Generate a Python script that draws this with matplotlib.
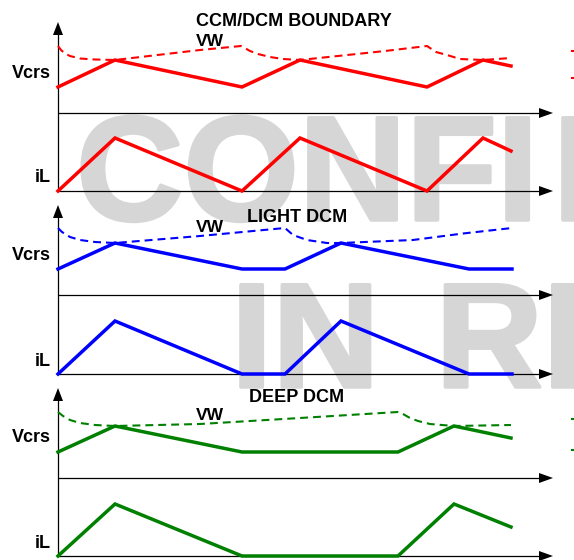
import matplotlib
matplotlib.use("Agg")
import matplotlib.pyplot as plt
import matplotlib.patheffects as pe
from matplotlib.patches import Polygon

# ---------------- data (time and signal levels) ----------------
# Panel 1: CCM/DCM boundary
t_ccm = [0, 57, 184, 242, 369, 425, 453]
il_ccm = [0, 53, 0, 53, 0, 53, 40]
vcrs_ccm = [26, 53, 26, 53, 26, 53, 47]
t_vw_ccm = [0, 3, 7, 12, 22, 37, 57, 142, 183, 186, 192, 200, 212, 225, 242,
            327, 369, 372, 378, 389, 402, 425, 453]
vw_ccm = [67, 63, 59.5, 57, 54.5, 53.5, 53, 63, 67, 65.5, 62, 59, 56, 54, 53,
          62, 67, 65, 61, 58, 54, 53, 55]

# Panel 2: light DCM
t_light = [0, 57, 184, 227, 283, 411, 454]
il_light = [0, 53, 0, 0, 53, 0, 0]
vcrs_light = [26, 52, 26, 26, 52, 26, 26]
t_vw_light = [0, 4, 12, 22, 37, 57, 142, 227, 235, 249, 269, 283, 355, 405, 454]
vw_light = [67, 63, 58, 55, 53, 52, 59, 67, 60, 55, 52, 52, 55, 61.5, 67]

# Panel 3: deep DCM
t_deep = [0, 57, 184, 340, 396, 453]
il_deep = [0, 52, 0, 0, 52, 29]
vcrs_deep = [26, 52, 26, 26, 52, 40]
t_vw_deep = [0, 5, 12, 22, 37, 57, 142, 242, 340, 345, 352, 360, 372, 396, 453]
vw_deep = [66, 62, 58, 55, 53, 52, 54, 60, 66, 64, 60, 57, 54, 52, 53]

titles = ["CCM/DCM BOUNDARY", "LIGHT DCM", "DEEP DCM"]
colors = ["#ff0000", "#0000ff", "#008000"]
watermark_words = ["CONFI", "DENTIAL", "IN", "RICHTEK"]

# ---------------- layout (pixel geometry of the drawing) ----------------
W, H = 574, 560
X0 = 58            # vertical axis position
X_END = 553        # arrow tip of time axes
panels = [
    dict(top=113, bot=191, tip=22, tx=196, ty=22, vwy=42),
    dict(top=295, bot=374, tip=205, tx=247, ty=218, vwy=228),
    dict(top=478, bot=556, tip=388, tx=249, ty=398, vwy=416),
]
wm_pos = [(76, 220), (553, 220), (231, 387), (435.5, 387)]
series = [
    (t_ccm, il_ccm, vcrs_ccm, t_vw_ccm, vw_ccm),
    (t_light, il_light, vcrs_light, t_vw_light, vw_light),
    (t_deep, il_deep, vcrs_deep, t_vw_deep, vw_deep),
]

fig = plt.figure(figsize=(W / 100, H / 100), dpi=100)
ax = fig.add_axes([0, 0, 1, 1])
ax.set_xlim(0, W)
ax.set_ylim(H, 0)
ax.axis("off")

FONT = "Liberation Sans"
WM = "#d6d6d6"

# watermark
for word, (x, y) in zip(watermark_words, wm_pos):
    ax.text(x, y, word, fontsize=107, fontweight="bold", family=FONT, color=WM,
            ha="left", va="baseline", zorder=0,
            path_effects=[pe.Stroke(linewidth=2.5, foreground=WM), pe.Normal()])


def harrow(y):
    ax.plot([X0, X_END - 12], [y, y], color="black", lw=0.9, zorder=2, solid_capstyle="butt")
    ax.add_patch(Polygon([[X_END - 14, y - 5], [X_END, y], [X_END - 14, y + 5]],
                         closed=True, color="black", lw=0, zorder=2))


def varrow(y_tip, y_bot):
    ax.plot([X0, X0], [y_tip + 10, y_bot], color="black", lw=0.9, zorder=2)
    ax.add_patch(Polygon([[X0 - 5, y_tip + 13], [X0, y_tip], [X0 + 5, y_tip + 13]],
                         closed=True, color="black", lw=0, zorder=2))


for p, (t, il, vc, tvw, vw), col, title in zip(panels, series, colors, titles):
    varrow(p["tip"], p["bot"])
    harrow(p["top"])
    harrow(p["bot"])
    # waveforms
    ax.plot([X0 + v for v in t], [p["bot"] - v for v in il], color=col, lw=2.5,
            zorder=3, solid_joinstyle="miter")
    ax.plot([X0 + v for v in t], [p["top"] - v for v in vc], color=col, lw=2.5,
            zorder=3, solid_joinstyle="miter")
    ax.plot([X0 + v for v in tvw], [p["top"] - v for v in vw], color=col, lw=1.5,
            linestyle=(0, (3.8, 2.4)), zorder=3)
    # labels
    ax.text(p["tx"], p["ty"], title, fontsize=13, fontweight="bold", family=FONT,
            ha="left", va="center", zorder=4)
    ax.text(196, p["vwy"], "VW", fontsize=12.5, fontweight="bold", family=FONT,
            ha="left", va="center", zorder=4)
    ax.text(51, p["top"] - 40, "Vcrs", fontsize=13, fontweight="bold", family=FONT,
            ha="right", va="center", zorder=4)
    ax.text(51, p["bot"] - 13, "iL", fontsize=13, fontweight="bold", family=FONT,
            ha="right", va="center", zorder=4)

# small cut-off marks at the right edge
for y, col in [(51, colors[0]), (78, colors[0]), (419, colors[2]), (450, colors[2])]:
    ax.plot([572, 574], [y, y], color=col, lw=1.5, zorder=3)

fig.savefig("out.png", dpi=100)
